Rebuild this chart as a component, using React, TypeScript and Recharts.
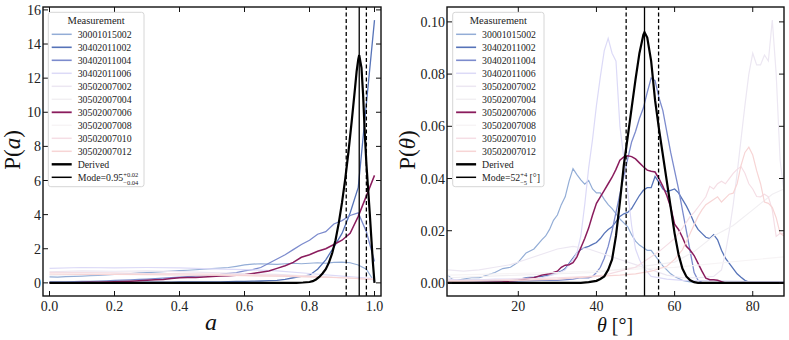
import React from "react";
import { LineChart, Line, XAxis, YAxis, ReferenceLine } from "recharts";

const FONT = "Liberation Serif, DejaVu Serif, serif";

const SERIES_NAMES = [
  "30001015002",
  "30402011002",
  "30402011004",
  "30402011006",
  "30502007002",
  "30502007004",
  "30502007006",
  "30502007008",
  "30502007010",
  "30502007012",
];
const SERIES_COLORS = [
  "#93add6",
  "#5673b8",
  "#7c8bcd",
  "#dcdaf7",
  "#ece7f2",
  "#f1eff2",
  "#8a1c5d",
  "#f7f4f5",
  "#f5dee5",
  "#f7d5d5",
];
const SERIES_WIDTHS = [1.2, 1.3, 1.3, 1.2, 1.2, 1.2, 1.5, 1.2, 1.2, 1.2];

// ---- left panel: P(a)
const A_FINE = [
  0, 0.025, 0.05, 0.075, 0.1, 0.125, 0.15, 0.175, 0.2, 0.225, 0.25, 0.275, 0.3, 0.325, 0.35, 0.375, 0.4,
  0.425, 0.45, 0.475, 0.5, 0.525, 0.55, 0.575, 0.6, 0.625, 0.65, 0.675, 0.7, 0.725, 0.75, 0.775, 0.8,
  0.825, 0.85, 0.875, 0.9, 0.925, 0.95, 0.975, 1.0,
];
const A_COARSE = [0, 0.1, 0.2, 0.3, 0.4, 0.5, 0.6, 0.7, 0.8, 0.9, 1.0];

const PA_30001015002 = [
  0.35, 0.34, 0.36, 0.38, 0.4, 0.42, 0.44, 0.47, 0.5, 0.52, 0.55, 0.58, 0.6, 0.63, 0.66, 0.69, 0.72, 0.74,
  0.77, 0.8, 0.83, 0.86, 0.9, 0.97, 1.05, 1.1, 1.12, 1.1, 1.08, 1.12, 1.15, 1.12, 1.15, 1.18, 1.15, 1.2,
  1.22, 1.18, 1.05, 0.8, 0.05,
];
const PA_30402011002 = [
  0.02, 0.02, 0.02, 0.02, 0.02, 0.02, 0.02, 0.03, 0.03, 0.03, 0.03, 0.03, 0.04, 0.04, 0.04, 0.04, 0.05,
  0.05, 0.05, 0.05, 0.06, 0.06, 0.07, 0.08, 0.09, 0.1, 0.11, 0.13, 0.15, 0.2, 0.3, 0.38, 0.45, 0.8, 1.35,
  2.1, 2.9, 4.1, 5.6, 10.5, 15.4,
];
const PA_30402011004 = [
  0.05, 0.05, 0.06, 0.07, 0.08, 0.09, 0.1, 0.12, 0.14, 0.16, 0.18, 0.2, 0.22, 0.25, 0.28, 0.3, 0.33, 0.36,
  0.4, 0.43, 0.47, 0.5, 0.55, 0.6, 0.7, 0.78, 0.9, 1.15, 1.4, 1.65, 1.95, 2.25, 2.5, 2.85, 3.0, 3.45, 3.65,
  3.95, 4.1, 3.0, 1.25,
];
const PA_30502007006 = [
  0, 0, 0.01, 0.01, 0.02, 0.03, 0.04, 0.05, 0.06, 0.08, 0.1, 0.12, 0.15, 0.18, 0.2, 0.25, 0.3, 0.31, 0.32,
  0.35, 0.37, 0.4, 0.42, 0.45, 0.48, 0.55, 0.62, 0.7, 0.85, 1.0, 1.2, 1.5, 1.65, 1.85, 2.0, 2.25, 2.5, 2.9,
  3.9, 5.1, 6.3,
];
const PA_30402011006 = [0.85, 0.9, 0.88, 0.9, 0.88, 0.82, 0.78, 0.7, 0.55, 0.4, 0.25];
const PA_30502007002 = [0.65, 0.7, 0.68, 0.7, 0.66, 0.6, 0.55, 0.5, 0.4, 0.3, 0.2];
const PA_30502007004 = [0.45, 0.48, 0.5, 0.5, 0.48, 0.46, 0.44, 0.4, 0.35, 0.3, 0.2];
const PA_30502007008 = [0.5, 0.52, 0.5, 0.52, 0.5, 0.48, 0.45, 0.42, 0.38, 0.3, 0.2];
const PA_30502007010 = [0.62, 0.6, 0.58, 0.55, 0.55, 0.52, 0.5, 0.45, 0.4, 0.3, 0.2];
const PA_30502007012 = [0.52, 0.5, 0.5, 0.48, 0.46, 0.45, 0.42, 0.4, 0.35, 0.3, 0.2];

const A_DERIVED = [
  0, 0.7, 0.76, 0.78, 0.8, 0.81, 0.82, 0.83, 0.84, 0.85, 0.86, 0.87, 0.88, 0.89, 0.9, 0.91, 0.92, 0.93,
  0.94, 0.945, 0.95, 0.953, 0.96, 0.965, 0.97, 0.975, 0.98, 0.985, 0.99, 0.995, 1.0,
];
const PA_DERIVED = [
  0, 0, 0.005, 0.02, 0.05, 0.1, 0.2, 0.35, 0.55, 0.8, 1.2, 1.75, 2.5, 3.5, 4.7, 6.1, 7.7, 9.5, 11.4, 12.4,
  13.1, 13.35, 12.6, 11.0, 8.8, 7.0, 5.6, 4.2, 2.7, 1.2, 0,
];
const A_MODE = [0.913, 0.953, 0.975];

// ---- right panel: P(theta)
const T_30001015002 = [
  2, 3, 4, 6, 8, 10, 12, 14, 16, 18, 20, 22, 24, 26, 27, 28, 29, 30, 31, 32, 33, 34, 35, 36, 37, 38, 39, 40,
  41, 42, 43, 44, 45, 46, 47, 48, 49, 50, 51, 52, 53, 54, 55, 56, 57, 58, 59, 60, 62, 64, 66, 70, 88,
];
const PT_30001015002 = [
  0.003, 0.0015, 0.001, 0.0015, 0.002, 0.002, 0.003, 0.004, 0.0055, 0.006, 0.008, 0.0115, 0.013, 0.0165,
  0.018, 0.0205, 0.024, 0.026, 0.03, 0.033, 0.039, 0.0438, 0.0415, 0.0395, 0.0378, 0.0392, 0.036, 0.0345,
  0.0345, 0.032, 0.03, 0.0285, 0.0265, 0.0245, 0.023, 0.0215, 0.0185, 0.016, 0.0145, 0.0135, 0.0125,
  0.0125, 0.0105, 0.0085, 0.0065, 0.005, 0.0035, 0.0025, 0.001, 0.0004, 0.0001, 0, 0,
];
const T_30402011002 = [
  2, 4, 6, 8, 10, 12, 14, 16, 18, 20, 22, 24, 26, 28, 30, 31, 32, 33, 34, 35, 36, 37, 38, 39, 40, 41, 42,
  43, 44, 45, 46, 47, 48, 49, 50, 51, 52, 53, 54, 55, 56, 57, 58, 59, 60, 61, 62, 63, 64, 65, 66, 67, 68,
  69, 70, 71, 72, 73, 74, 75, 76, 77, 78, 79, 80, 88,
];
const PT_30402011002 = [
  0.0005, 0.0005, 0.001, 0.001, 0.001, 0.0008, 0.001, 0.001, 0.0012, 0.0013, 0.002, 0.0022, 0.0025, 0.003,
  0.004, 0.0045, 0.0055, 0.0075, 0.0095, 0.0115, 0.0128, 0.0135, 0.014, 0.0148, 0.0155, 0.017, 0.019,
  0.0205, 0.0215, 0.0235, 0.0255, 0.0265, 0.027, 0.0285, 0.031, 0.0335, 0.0355, 0.0365, 0.0365, 0.0408,
  0.0385, 0.036, 0.035, 0.0355, 0.036, 0.0345, 0.032, 0.0295, 0.0265, 0.023, 0.0205, 0.019, 0.0175, 0.017,
  0.0185, 0.0165, 0.0125, 0.0095, 0.0075, 0.0055, 0.0035, 0.0022, 0.001, 0.0003, 0, 0,
];
const T_30402011004 = [
  2, 6, 10, 14, 18, 22, 26, 30, 34, 36, 38, 39, 40, 41, 42, 43, 44, 45, 46, 47, 48, 49, 50, 51, 52, 53, 54,
  55, 56, 57, 58, 59, 60, 61, 62, 63, 64, 65, 66, 67, 70, 88,
];
const PT_30402011004 = [
  0.0003, 0.0003, 0.0005, 0.0005, 0.0006, 0.0008, 0.001, 0.001, 0.0015, 0.002, 0.002, 0.0025, 0.004, 0.006,
  0.0095, 0.014, 0.02, 0.027, 0.034, 0.041, 0.0475, 0.054, 0.058, 0.063, 0.067, 0.073, 0.0785, 0.0775,
  0.071, 0.066, 0.058, 0.05, 0.043, 0.036, 0.028, 0.02, 0.012, 0.004, 0.001, 0.0002, 0, 0,
];
const T_30402011006 = [
  2, 6, 10, 14, 18, 22, 26, 30, 32, 33, 34, 35, 36, 37, 38, 39, 40, 41, 42, 43, 44, 45, 46, 47, 48, 49, 50,
  51, 52, 54, 58, 62, 70, 80, 88,
];
const PT_30402011006 = [
  0.0015, 0.001, 0.0012, 0.0015, 0.0015, 0.0018, 0.002, 0.0035, 0.005, 0.007, 0.009, 0.0115, 0.018, 0.03,
  0.044, 0.055, 0.068, 0.079, 0.089, 0.0937, 0.088, 0.085, 0.06, 0.048, 0.035, 0.022, 0.013, 0.009, 0.006,
  0.0025, 0.0015, 0.001, 0.0008, 0.0005, 0.0005,
];
const T_30502007002 = [
  2, 6, 10, 14, 18, 22, 26, 30, 34, 38, 42, 46, 50, 54, 58, 62, 66, 70, 72, 73, 74, 75, 76, 77, 78, 79, 80,
  81, 82, 83, 84, 85, 86, 87, 88,
];
const PT_30502007002 = [
  0.005, 0.0045, 0.005, 0.006, 0.007, 0.009, 0.011, 0.013, 0.014, 0.013, 0.011, 0.009, 0.007, 0.005, 0.003,
  0.002, 0.002, 0.0025, 0.005, 0.0115, 0.02, 0.03, 0.042, 0.055, 0.068, 0.08, 0.088, 0.0835, 0.0835,
  0.0873, 0.085, 0.1007, 0.08, 0.047, 0.035,
];
const T_30502007004 = [2, 20, 40, 60, 65, 70, 75, 80, 85, 88];
const PT_30502007004 = [0.002, 0.003, 0.004, 0.008, 0.012, 0.018, 0.022, 0.028, 0.034, 0.036];
const T_30502007006 = [
  2, 10, 16, 20, 22, 24, 26, 28, 29, 30, 31, 32, 33, 34, 35, 36, 37, 38, 39, 40, 41, 42, 43, 44, 45, 46, 47,
  48, 49, 50, 51, 52, 53, 54, 55, 56, 57, 58, 59, 60, 61, 62, 63, 64, 65, 66, 67, 68, 69, 70, 71, 72, 73, 88,
];
const PT_30502007006 = [
  0, 0.0002, 0.0005, 0.001, 0.0015, 0.002, 0.003, 0.0035, 0.004, 0.0045, 0.006, 0.0068, 0.007, 0.0078, 0.01,
  0.0135, 0.017, 0.021, 0.026, 0.0305, 0.033, 0.0355, 0.038, 0.0405, 0.0435, 0.047, 0.0483, 0.0487, 0.0484,
  0.0475, 0.046, 0.0445, 0.0432, 0.0428, 0.0425, 0.04, 0.037, 0.0335, 0.029, 0.0225, 0.0205, 0.0175, 0.014,
  0.0125, 0.0105, 0.0075, 0.0045, 0.0018, 0.0012, 0.0012, 0.001, 0.0005, 0, 0,
];
const T_30502007008 = [2, 30, 60, 88];
const PT_30502007008 = [0.003, 0.004, 0.006, 0.01];
const T_30502007010 = [
  2, 10, 20, 30, 38, 42, 46, 50, 52, 54, 56, 58, 60, 61, 62, 64, 65, 66, 68, 69, 70, 71, 72, 73, 74, 75, 76,
  77, 78, 79, 80, 81, 82, 83, 84, 85, 86, 87, 88,
];
const PT_30502007010 = [
  0.001, 0.001, 0.0015, 0.002, 0.0025, 0.003, 0.0045, 0.006, 0.008, 0.01, 0.012, 0.0145, 0.017, 0.019,
  0.021, 0.0255, 0.027, 0.029, 0.033, 0.037, 0.036, 0.038, 0.039, 0.038, 0.04, 0.042, 0.0435, 0.0446, 0.042,
  0.038, 0.036, 0.0331, 0.033, 0.034, 0.033, 0.028, 0.0178, 0.019, 0.019,
];
const T_30502007012 = [
  2, 20, 30, 40, 46, 50, 54, 58, 60, 62, 64, 66, 67, 68, 70, 71, 72, 73, 74, 75, 76, 77, 78, 79, 80, 81, 82,
  83, 84, 85, 86, 87, 88,
];
const PT_30502007012 = [
  0.0005, 0.001, 0.0015, 0.0025, 0.003, 0.0035, 0.0045, 0.0064, 0.009, 0.0127, 0.019, 0.0255, 0.028, 0.03,
  0.032, 0.033, 0.031, 0.0325, 0.034, 0.0344, 0.038, 0.045, 0.05, 0.052, 0.049, 0.043, 0.038, 0.031, 0.0305,
  0.029, 0.025, 0.019, 0.018,
];
const T_DERIVED = [
  2, 30, 36, 38, 40, 41, 42, 43, 44, 45, 46, 47, 48, 49, 50, 51, 52, 52.3, 53, 54, 55, 56, 57, 58, 59, 60,
  61, 62, 63, 64, 65, 66, 70, 88,
];
const PT_DERIVED = [
  0, 0, 0, 0.0003, 0.0008, 0.0015, 0.0025, 0.005, 0.009, 0.018, 0.031, 0.045, 0.056, 0.067, 0.078, 0.088,
  0.095, 0.096, 0.094, 0.085, 0.07, 0.059, 0.049, 0.039, 0.029, 0.019, 0.011, 0.0055, 0.0025, 0.001, 0.0003,
  0, 0, 0,
];
const THETA_MODE = [47.6, 52.3, 55.9];

const zip = (xs: number[], ys: number[]) => xs.map((x, i) => ({ x, y: ys[i] }));

const LEFT_SERIES = [
  zip(A_FINE, PA_30001015002),
  zip(A_FINE, PA_30402011002),
  zip(A_FINE, PA_30402011004),
  zip(A_COARSE, PA_30402011006),
  zip(A_COARSE, PA_30502007002),
  zip(A_COARSE, PA_30502007004),
  zip(A_FINE, PA_30502007006),
  zip(A_COARSE, PA_30502007008),
  zip(A_COARSE, PA_30502007010),
  zip(A_COARSE, PA_30502007012),
];
const RIGHT_SERIES = [
  zip(T_30001015002, PT_30001015002),
  zip(T_30402011002, PT_30402011002),
  zip(T_30402011004, PT_30402011004),
  zip(T_30402011006, PT_30402011006),
  zip(T_30502007002, PT_30502007002),
  zip(T_30502007004, PT_30502007004),
  zip(T_30502007006, PT_30502007006),
  zip(T_30502007008, PT_30502007008),
  zip(T_30502007010, PT_30502007010),
  zip(T_30502007012, PT_30502007012),
];

const H = 340;
const PLOT_TOP = 7;
const PLOT_BOTTOM = 296;

type PanelProps = {
  width: number;
  left: number;
  plotLeft: number;
  plotRight: number;
  yAxisWidth: number;
  series: { x: number; y: number }[][];
  derived: { x: number; y: number }[];
  mode: number[];
  xDomain: [number, number];
  yDomain: [number, number];
  xTicks: number[];
  yTicks: number[];
  fmtX: (v: number) => string;
  fmtY: (v: number) => string;
};

function Panel(p: PanelProps) {
  const xTick = (props: any) => {
    const { x, y, payload } = props;
    return (
      <g>
        <line x1={x} x2={x} y1={y} y2={y - 5} stroke="#111" strokeWidth={1} />
        <line x1={x} x2={x} y1={PLOT_TOP} y2={PLOT_TOP + 5} stroke="#111" strokeWidth={1} />
        <text x={x} y={y + 15} textAnchor="middle" fontSize={14} fontFamily={FONT} fill="#222">
          {p.fmtX(payload.value)}
        </text>
      </g>
    );
  };
  const yTick = (props: any) => {
    const { x, y, payload } = props;
    return (
      <g>
        <line x1={x} x2={x + 5} y1={y} y2={y} stroke="#111" strokeWidth={1} />
        <line x1={p.plotRight - 5} x2={p.plotRight} y1={y} y2={y} stroke="#111" strokeWidth={1} />
        <text x={x - 2} y={y + 5} textAnchor="end" fontSize={14} fontFamily={FONT} fill="#222">
          {p.fmtY(payload.value)}
        </text>
      </g>
    );
  };
  return (
    <div style={{ position: "absolute", left: p.left, top: 0 }}>
      <LineChart
        width={p.width}
        height={H}
        margin={{
          top: PLOT_TOP,
          right: p.width - p.plotRight,
          bottom: H - PLOT_BOTTOM - 30,
          left: p.plotLeft - p.yAxisWidth,
        }}
      >
        <XAxis
          type="number"
          dataKey="x"
          domain={p.xDomain}
          ticks={p.xTicks}
          allowDataOverflow
          height={30}
          tickSize={0}
          tickMargin={0}
          tickLine={false}
          axisLine={false}
          tick={xTick}
          interval={0}
        />
        <YAxis
          type="number"
          dataKey="y"
          domain={p.yDomain}
          ticks={p.yTicks}
          allowDataOverflow
          width={p.yAxisWidth}
          tickSize={0}
          tickMargin={0}
          tickLine={false}
          axisLine={false}
          tick={yTick}
          interval={0}
        />
        {p.series.map((d, i) => (
          <Line
            key={SERIES_NAMES[i]}
            data={d}
            dataKey="y"
            type="linear"
            stroke={SERIES_COLORS[i]}
            strokeWidth={SERIES_WIDTHS[i]}
            dot={false}
            activeDot={false}
            isAnimationActive={false}
          />
        ))}
        <Line
          data={p.derived}
          dataKey="y"
          type="linear"
          stroke="#000"
          strokeWidth={2.2}
          dot={false}
          activeDot={false}
          isAnimationActive={false}
        />
        <ReferenceLine x={p.mode[0]} stroke="#000" strokeWidth={1.3} strokeDasharray="4 2.5" />
        <ReferenceLine x={p.mode[1]} stroke="#000" strokeWidth={1.3} />
        <ReferenceLine x={p.mode[2]} stroke="#000" strokeWidth={1.3} strokeDasharray="4 2.5" />
      </LineChart>
    </div>
  );
}

function LegendBox({ x, w, mode }: { x: number; w: number; mode: React.ReactNode }) {
  const top = 12.3;
  const rowY = (i: number) => 34.3 + 13 * i;
  const swX = x + 3.4;
  const txtX = x + 29.4;
  return (
    <g fontFamily={FONT} fill="#222">
      <rect x={x} y={top} width={w} height={174.4} rx={2.5} fill="#fff" fillOpacity={0.85} stroke="#d6d6d6" strokeWidth={1} />
      <text x={x + w / 2} y={24.2} textAnchor="middle" fontSize={10.5}>
        Measurement
      </text>
      {SERIES_NAMES.map((n, i) => (
        <g key={n}>
          <line x1={swX} x2={swX + 20} y1={rowY(i)} y2={rowY(i)} stroke={SERIES_COLORS[i]} strokeWidth={SERIES_WIDTHS[i] + 0.3} />
          <text x={txtX} y={rowY(i) + 3.4} fontSize={9.8}>
            {n}
          </text>
        </g>
      ))}
      <line x1={swX} x2={swX + 20} y1={rowY(10)} y2={rowY(10)} stroke="#000" strokeWidth={2.4} />
      <text x={txtX} y={rowY(10) + 3.4} fontSize={9.8}>
        Derived
      </text>
      <line x1={swX} x2={swX + 20} y1={rowY(11)} y2={rowY(11)} stroke="#000" strokeWidth={1.5} />
      <text x={txtX} y={rowY(11) + 3.4} fontSize={9.8}>
        {mode}
      </text>
    </g>
  );
}

export default function App() {
  return (
    <div style={{ position: "absolute", left: 0, top: 0, width: 789, height: H, background: "#fff" }}>
      <Panel
        width={395}
        left={0}
        plotLeft={43}
        plotRight={381}
        yAxisWidth={35}
        series={LEFT_SERIES}
        derived={zip(A_DERIVED, PA_DERIVED)}
        mode={A_MODE}
        xDomain={[-0.02, 1.02]}
        yDomain={[-0.77, 16.17]}
        xTicks={[0, 0.2, 0.4, 0.6, 0.8, 1.0]}
        yTicks={[0, 2, 4, 6, 8, 10, 12, 14, 16]}
        fmtX={(v) => v.toFixed(1)}
        fmtY={(v) => String(v)}
      />
      <Panel
        width={394}
        left={395}
        plotLeft={52}
        plotRight={389}
        yAxisWidth={45}
        series={RIGHT_SERIES}
        derived={zip(T_DERIVED, PT_DERIVED)}
        mode={THETA_MODE}
        xDomain={[1.75, 88.0]}
        yDomain={[-0.005, 0.1057]}
        xTicks={[20, 40, 60, 80]}
        yTicks={[0, 0.02, 0.04, 0.06, 0.08, 0.1]}
        fmtX={(v) => String(v)}
        fmtY={(v) => v.toFixed(2)}
      />
      <svg width={789} height={H} style={{ position: "absolute", left: 0, top: 0, pointerEvents: "none" }}>
        <rect x={43} y={PLOT_TOP} width={338} height={PLOT_BOTTOM - PLOT_TOP} fill="none" stroke="#111" strokeWidth={1.4} />
        <rect x={447} y={PLOT_TOP} width={337} height={PLOT_BOTTOM - PLOT_TOP} fill="none" stroke="#111" strokeWidth={1.4} />

        <LegendBox
          x={48.3}
          w={95.7}
          mode={
            <>
              Mode=0.95
              <tspan dy={-3.6} fontSize={6.5}>+0.02</tspan>
              <tspan dx={-15} dy={7.4} fontSize={6.5}>−0.04</tspan>
            </>
          }
        />
        <LegendBox
          x={452.7}
          w={91.3}
          mode={
            <>
              Mode=52
              <tspan dy={-3.6} fontSize={6.5}>+4</tspan>
              <tspan dx={-7} dy={7.4} fontSize={6.5}>−5</tspan>
              <tspan dy={-3.8}> [°]</tspan>
            </>
          }
        />

        <g fontFamily={FONT} fill="#111">
          <text transform="translate(20,150) rotate(-90)" textAnchor="middle" fontSize={23}>
            P(<tspan fontStyle="italic">a</tspan>)
          </text>
          <text transform="translate(415,150) rotate(-90)" textAnchor="middle" fontSize={23}>
            P(<tspan fontStyle="italic">θ</tspan>)
          </text>
          <text x={211} y={330} textAnchor="middle" fontSize={24} fontStyle="italic">
            a
          </text>
          <text x={615} y={332} textAnchor="middle" fontSize={20}>
            <tspan fontStyle="italic">θ</tspan> [°]
          </text>
        </g>
      </svg>
    </div>
  );
}
